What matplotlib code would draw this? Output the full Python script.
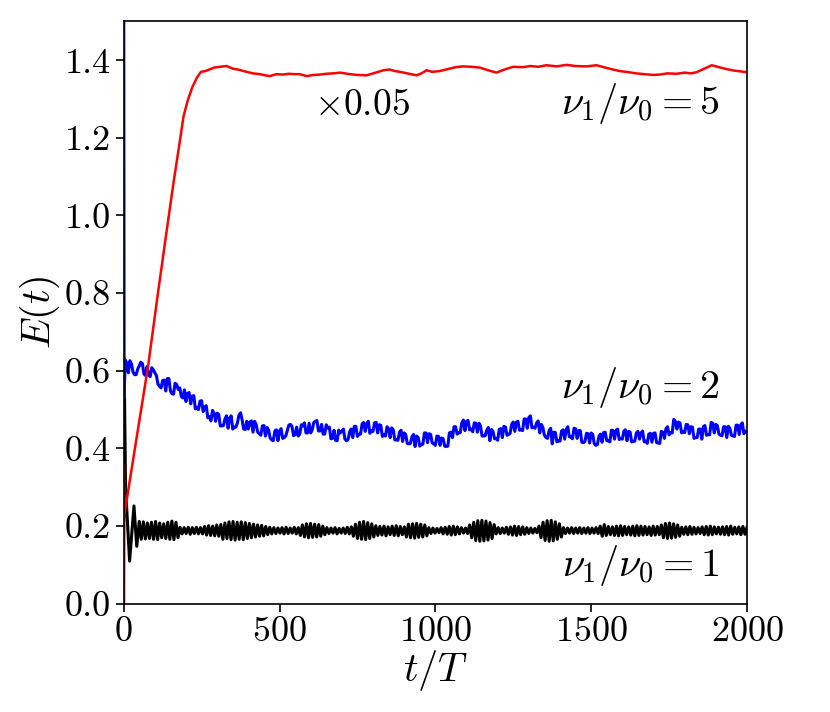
import numpy as np
import matplotlib
matplotlib.use('Agg')
from matplotlib import pyplot as plt

plt.rcParams.update({
    'font.family': 'serif',
    'font.serif': ['cmr10'],
    'mathtext.fontset': 'cm',
    'axes.formatter.use_mathtext': True,
    'axes.unicode_minus': False,
    'font.size': 26,
})

# nu1/nu0 = 5 (shown x0.05)
red_t = [0, 0.6, 2.5, 40, 78, 110, 137, 160, 180, 192, 205, 220, 235, 248, 262, 275,
         290, 310, 330, 351, 372, 394, 415, 437, 455, 469, 490, 510, 530, 550, 565,
         587, 610, 630, 650, 672, 694, 710, 726, 750, 779, 805, 833, 854, 870, 886,
         910, 940, 955, 972, 990, 1014, 1040, 1065, 1089, 1115, 1142, 1170, 1196,
         1222, 1250, 1280, 1305, 1330, 1357, 1390, 1421, 1450, 1485, 1517, 1545,
         1570, 1592, 1620, 1645, 1670, 1699, 1720, 1745, 1774, 1800, 1820, 1838,
         1860, 1887, 1910, 1935, 1960, 1980, 2000]
red_vals = [0.0, 0.36, 0.23, 0.42, 0.61, 0.80, 0.955, 1.085, 1.19, 1.255, 1.295,
            1.33, 1.355, 1.370, 1.372, 1.376, 1.381, 1.383, 1.385, 1.378, 1.375,
            1.370, 1.366, 1.364, 1.361, 1.359, 1.364, 1.363, 1.365, 1.364, 1.364,
            1.359, 1.362, 1.363, 1.365, 1.366, 1.368, 1.366, 1.364, 1.362, 1.361,
            1.367, 1.374, 1.376, 1.372, 1.370, 1.366, 1.361, 1.366, 1.374, 1.370,
            1.372, 1.377, 1.382, 1.384, 1.383, 1.381, 1.374, 1.368, 1.376, 1.383,
            1.382, 1.385, 1.383, 1.387, 1.384, 1.388, 1.385, 1.384, 1.387, 1.381,
            1.376, 1.372, 1.369, 1.366, 1.364, 1.362, 1.363, 1.366, 1.365, 1.368,
            1.366, 1.369, 1.377, 1.387, 1.382, 1.377, 1.373, 1.371, 1.369]

# nu1/nu0 = 2
blue_t0 = [0, 1.5]
blue_v0 = [1.8, 0.53]
# samples at t = 5, 15, ..., 1995
blue_vals = [
    0.628, 0.595, 0.618, 0.590, 0.604, 0.622, 0.592, 0.611, 0.585, 0.603,
    0.588, 0.560, 0.575, 0.548, 0.580, 0.541, 0.568, 0.552, 0.534, 0.551,
    0.542, 0.515, 0.536, 0.506, 0.522, 0.495, 0.510, 0.482, 0.498, 0.470,
    0.488, 0.458, 0.476, 0.452, 0.484, 0.455, 0.466, 0.492, 0.450, 0.470,
    0.468, 0.442, 0.462, 0.438, 0.458, 0.432, 0.447, 0.422, 0.445, 0.420,
    0.451, 0.428, 0.446, 0.462, 0.433, 0.455, 0.437, 0.458, 0.440, 0.465,
    0.448, 0.470, 0.445, 0.462, 0.437, 0.452, 0.425, 0.447, 0.420, 0.440,
    0.450, 0.420, 0.443, 0.428, 0.457, 0.436, 0.463, 0.444, 0.470, 0.446,
    0.466, 0.440, 0.460, 0.435, 0.456, 0.428, 0.448, 0.422, 0.442, 0.418,
    0.436, 0.412, 0.430, 0.405, 0.428, 0.410, 0.440, 0.415, 0.436, 0.412,
    0.432, 0.408, 0.425, 0.405, 0.440, 0.428, 0.456, 0.440, 0.466, 0.446,
    0.472, 0.450, 0.466, 0.442, 0.458, 0.432, 0.447, 0.420, 0.444, 0.426,
    0.449, 0.428, 0.455, 0.436, 0.462, 0.444, 0.470, 0.448, 0.476, 0.452,
    0.484, 0.455, 0.466, 0.440, 0.454, 0.428, 0.446, 0.412, 0.441, 0.420,
    0.445, 0.424, 0.456, 0.430, 0.452, 0.426, 0.446, 0.415, 0.439, 0.414,
    0.436, 0.408, 0.432, 0.416, 0.442, 0.420, 0.447, 0.424, 0.450, 0.426,
    0.445, 0.420, 0.442, 0.418, 0.440, 0.424, 0.445, 0.419, 0.437, 0.416,
    0.440, 0.414, 0.444, 0.426, 0.456, 0.441, 0.475, 0.450, 0.466, 0.444,
    0.462, 0.438, 0.455, 0.428, 0.450, 0.424, 0.459, 0.436, 0.467, 0.440,
    0.459, 0.434, 0.456, 0.428, 0.452, 0.432, 0.460, 0.436, 0.466, 0.444,
]
# samples at t = 10, 20, ..., 1990
blue_mid_vals = [
    0.620, 0.626, 0.597, 0.590, 0.613, 0.619, 0.588, 0.589, 0.608, 0.595,
    0.566, 0.556, 0.576, 0.580, 0.549, 0.540, 0.565, 0.556, 0.530, 0.521,
    0.544, 0.535, 0.502, 0.500, 0.523, 0.507, 0.479, 0.471, 0.491, 0.491,
    0.458, 0.459, 0.484, 0.478, 0.450, 0.455, 0.486, 0.474, 0.449, 0.450,
    0.471, 0.470, 0.442, 0.434, 0.459, 0.454, 0.427, 0.420, 0.448, 0.445,
    0.426, 0.432, 0.460, 0.457, 0.435, 0.432, 0.461, 0.466, 0.440, 0.440,
    0.467, 0.472, 0.445, 0.437, 0.461, 0.455, 0.426, 0.421, 0.447, 0.445,
    0.424, 0.423, 0.450, 0.457, 0.431, 0.437, 0.467, 0.464, 0.439, 0.444,
    0.467, 0.461, 0.431, 0.432, 0.451, 0.453, 0.422, 0.421, 0.447, 0.440,
    0.413, 0.413, 0.436, 0.432, 0.406, 0.411, 0.440, 0.438, 0.414, 0.408,
    0.431, 0.427, 0.406, 0.406, 0.442, 0.456, 0.437, 0.441, 0.473, 0.470,
    0.448, 0.443, 0.465, 0.465, 0.432, 0.433, 0.454, 0.449, 0.425, 0.421,
    0.451, 0.457, 0.434, 0.439, 0.468, 0.468, 0.447, 0.446, 0.476, 0.480,
    0.453, 0.452, 0.471, 0.462, 0.434, 0.426, 0.452, 0.442, 0.417, 0.419,
    0.448, 0.449, 0.430, 0.425, 0.451, 0.446, 0.416, 0.418, 0.438, 0.440,
    0.412, 0.410, 0.437, 0.441, 0.420, 0.417, 0.446, 0.447, 0.423, 0.424,
    0.448, 0.444, 0.417, 0.419, 0.444, 0.440, 0.417, 0.413, 0.439, 0.439,
    0.415, 0.413, 0.442, 0.451, 0.435, 0.440, 0.470, 0.468, 0.440, 0.441,
    0.461, 0.456, 0.426, 0.428, 0.450, 0.456, 0.434, 0.435, 0.465, 0.462,
    0.437, 0.433, 0.456, 0.457, 0.434, 0.431, 0.460, 0.461, 0.438,
]

# nu1/nu0 = 1
black_t0 = [0, 1.5, 6, 19, 33, 42]
black_v0 = [0.0, 0.62, 0.30, 0.11, 0.252, 0.148]
black_vals = [
    0.212, 0.166, 0.211, 0.167, 0.208, 0.168, 0.210, 0.166, 0.212, 0.165,
    0.208, 0.170, 0.206, 0.168, 0.210, 0.166, 0.213, 0.165, 0.210, 0.170,
    0.197, 0.180, 0.196, 0.181, 0.197, 0.179, 0.196, 0.181, 0.197, 0.180,
    0.196, 0.180, 0.199, 0.177, 0.201, 0.176, 0.200, 0.175, 0.203, 0.174, 0.204,
    0.166, 0.208, 0.168, 0.211, 0.165, 0.212, 0.164, 0.210, 0.166, 0.211,
    0.165, 0.209, 0.168, 0.207, 0.170,
    0.205, 0.172, 0.203, 0.174, 0.202, 0.175, 0.199, 0.178,
    0.197, 0.180, 0.196, 0.181, 0.195, 0.182, 0.196, 0.180, 0.197, 0.181,
    0.195, 0.182, 0.197, 0.180, 0.196,
    0.176, 0.203, 0.172, 0.206, 0.170, 0.207, 0.171, 0.205, 0.172, 0.204,
    0.174, 0.200, 0.178,
    0.196, 0.181, 0.195, 0.182, 0.196, 0.180, 0.194, 0.182, 0.195, 0.181,
    0.197, 0.180, 0.198,
    0.174, 0.205, 0.168, 0.210, 0.166, 0.212, 0.165, 0.209, 0.168, 0.206, 0.172,
    0.201, 0.176, 0.199, 0.177, 0.200, 0.175, 0.198, 0.178, 0.200, 0.176,
    0.201, 0.175, 0.199, 0.178, 0.198,
    0.172, 0.205, 0.170, 0.206, 0.169, 0.207, 0.171, 0.205, 0.172, 0.203, 0.175,
    0.196, 0.181, 0.195, 0.182, 0.194, 0.183, 0.196, 0.180, 0.197, 0.179,
    0.199, 0.177, 0.200, 0.178, 0.198, 0.180, 0.196, 0.182, 0.195, 0.181,
    0.203, 0.170, 0.210, 0.163, 0.214, 0.161, 0.215, 0.162, 0.213, 0.164,
    0.209, 0.168, 0.204,
    0.180, 0.196, 0.181, 0.195, 0.182, 0.197, 0.179, 0.198, 0.177, 0.200,
    0.176, 0.199, 0.178, 0.198, 0.179, 0.196, 0.181, 0.195, 0.182, 0.194, 0.183,
    0.200, 0.170, 0.210, 0.163, 0.214, 0.161, 0.215, 0.162, 0.211, 0.166,
    0.206, 0.172,
    0.196, 0.181, 0.195, 0.182, 0.196, 0.181, 0.195, 0.182, 0.196, 0.181,
    0.195, 0.182, 0.196, 0.181, 0.195, 0.182, 0.196, 0.181,
    0.200, 0.174, 0.204, 0.176, 0.199,
    0.178, 0.198, 0.176, 0.200, 0.175, 0.201, 0.176, 0.199, 0.178, 0.198,
    0.177, 0.200, 0.175, 0.201, 0.176, 0.200, 0.177, 0.199, 0.178, 0.198,
    0.176, 0.200, 0.177, 0.199, 0.178,
    0.203, 0.170, 0.207, 0.168, 0.208, 0.169, 0.206, 0.171, 0.203, 0.174,
    0.197, 0.179, 0.198, 0.178, 0.199, 0.179, 0.197, 0.180, 0.196, 0.181,
    0.198, 0.178, 0.199, 0.177, 0.200, 0.178, 0.198, 0.180, 0.197, 0.179,
    0.198, 0.178, 0.199, 0.177, 0.200, 0.179, 0.197, 0.180, 0.198, 0.178,
    0.199, 0.179, 0.197,
]

blue_main_t = np.linspace(5, 1995, len(blue_vals))
blue_mid_t = np.linspace(10, 10 * len(blue_mid_vals), len(blue_mid_vals))
blue_t = np.concatenate([blue_t0, blue_main_t, blue_mid_t])
blue_y = np.concatenate([blue_v0, blue_vals, blue_mid_vals])
order = np.argsort(blue_t)
blue_t, blue_y = blue_t[order], blue_y[order]

black_t = np.concatenate([black_t0, np.linspace(50, 2000, len(black_vals))])
black_y = np.concatenate([black_v0, black_vals])

fig = plt.figure(figsize=(8.3, 7.12), dpi=100)
ax = fig.add_axes([0.149, 0.152, 0.751, 0.818])

ax.plot(black_t, black_y, color='black', lw=2.2)
ax.plot(blue_t, blue_y, color='blue', lw=2.2)
ax.plot(red_t, red_vals, color='red', lw=1.8)

ax.set_xlim(0, 2000)
ax.set_ylim(0, 1.5)
ax.set_xticks([0, 500, 1000, 1500, 2000])
ax.set_yticks(np.arange(0, 1.41, 0.2))
ax.yaxis.set_major_formatter(matplotlib.ticker.FormatStrFormatter('%.1f'))
ax.tick_params(length=6, width=1.2, labelsize=26, pad=3)
for s in ax.spines.values():
    s.set_linewidth(1.2)

ax.set_xlabel(r'$t/T$', fontsize=29, labelpad=0)
ax.set_ylabel(r'$E(t)$', fontsize=29, labelpad=2)

ax.text(1913, 1.289, r'$\nu_1/\nu_0=5$', ha='right', va='center', fontsize=29)
ax.text(610, 1.284, r'$\times0.05$', ha='left', va='center', fontsize=27)
ax.text(1913, 0.558, r'$\nu_1/\nu_0=2$', ha='right', va='center', fontsize=29)
ax.text(1913, 0.098, r'$\nu_1/\nu_0=1$', ha='right', va='center', fontsize=29)

fig.savefig('out.png', dpi=100)
